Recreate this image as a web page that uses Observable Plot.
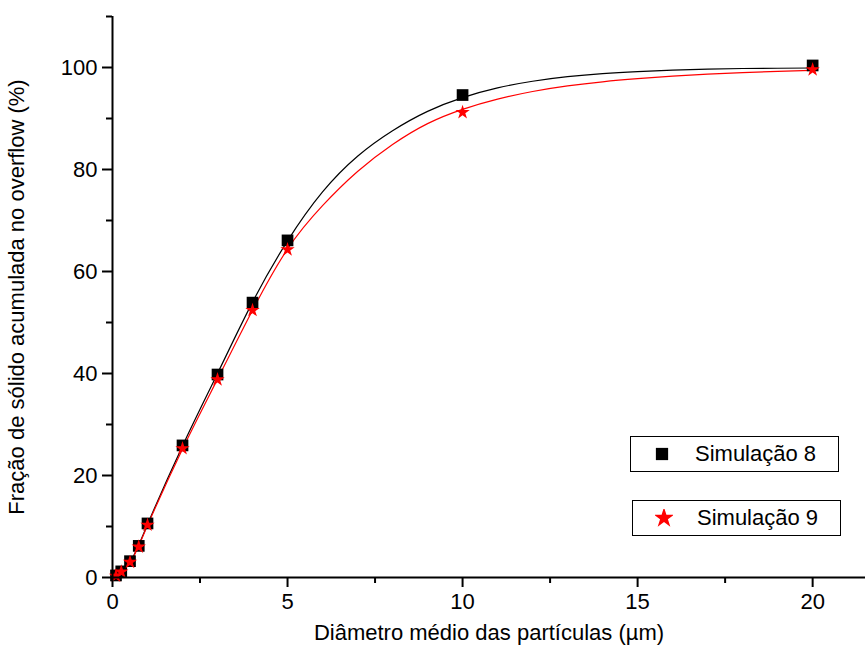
<!DOCTYPE html>
<html>
<head>
<meta charset="utf-8">
<script src="https://cdn.jsdelivr.net/npm/d3@7"></script>
<script src="https://cdn.jsdelivr.net/npm/@observablehq/plot@0.6"></script>
<style>
  html, body { margin: 0; padding: 0; background: #fff; }
  #wrap { position: relative; width: 865px; height: 646px; font-family: "Liberation Sans", Arial, sans-serif; }
  .leg { position: absolute; border: 1.5px solid #000; background: #fff; box-sizing: border-box; font-size: 22px; color: #000; display: flex; align-items: center; }
  .leg svg { margin-left: 22px; margin-right: 24px; }
</style>
</head>
<body>
<div id="wrap"></div>
<script>
// Measured points
const diam = [0.1, 0.25, 0.5, 0.75, 1, 2, 3, 4, 5, 10, 20];
const sim8 = [0.4, 1.2, 3.2, 6.2, 10.6, 25.9, 39.8, 53.9, 66.1, 94.6, 100.4];
const sim9 = [0.3, 1.1, 3.0, 6.0, 10.3, 25.3, 38.8, 52.4, 64.3, 91.2, 99.6];

// Fitted curves
const fitX = [0, 0.5, 1, 2, 3, 4, 5, 6, 7, 8, 9, 10, 11, 12, 13, 14, 15, 16, 17, 18, 19, 20];
const fit8 = [0, 3.0, 10.4, 25.8, 40.0, 54.0, 66.0, 75.6, 82.6, 87.6, 91.4, 94.1, 96.0, 97.3, 98.2, 98.8, 99.2, 99.5, 99.7, 99.8, 99.85, 99.9];
const fit9 = [0, 2.9, 10.2, 25.2, 38.9, 52.4, 64.4, 72.9, 79.6, 84.9, 89.0, 91.8, 93.8, 95.3, 96.4, 97.2, 97.8, 98.3, 98.7, 99.0, 99.25, 99.45];

const seriesNames = ["Simulação 8", "Simulação 9"];
const xMajor = [0, 5, 10, 15, 20];
const xMinor = [2.5, 7.5, 12.5, 17.5];
const yMajor = [0, 20, 40, 60, 80, 100];
const yMinor = [10, 30, 50, 70, 90, 110];

const pts8 = diam.map((d, i) => ({x: d, y: sim8[i]}));
const pts9 = diam.map((d, i) => ({x: d, y: sim9[i]}));
const line8 = fitX.map((d, i) => ({x: d, y: fit8[i]}));
const line9 = fitX.map((d, i) => ({x: d, y: fit9[i]}));

const font = "Liberation Sans, Arial, sans-serif";
const chart = Plot.plot({
  width: 865,
  height: 646,
  marginLeft: 112,
  marginRight: 0,
  marginTop: 16,
  marginBottom: 69,
  style: {fontFamily: font, fontSize: "22px", color: "#000", background: "#fff"},
  x: {domain: [0, 21.51]},
  y: {domain: [0, 110]},
  marks: [
    Plot.line(line8, {x: "x", y: "y", stroke: "#000", strokeWidth: 1.2, curve: "natural"}),
    Plot.line(line9, {x: "x", y: "y", stroke: "#ff0000", strokeWidth: 1.2, curve: "natural"}),
    Plot.dot(pts8, {x: "x", y: "y", symbol: "square", r: 6.6, fill: "#000", stroke: null}),
    Plot.dot(pts9, {x: "x", y: "y", symbol: "star", r: 4.5, fill: "#ff0000", stroke: null}),
    Plot.axisX({ticks: xMajor, tickSize: 10, strokeWidth: 2, tickPadding: 6, fontSize: 22,
      label: "Diâmetro médio das partículas (µm)", labelAnchor: "center", labelArrow: "none", labelOffset: 62}),
    Plot.axisX({ticks: xMinor, tickSize: 6, strokeWidth: 2, tickFormat: () => "", label: null}),
    Plot.axisY({ticks: yMajor, tickSize: 10, strokeWidth: 2, tickPadding: 5, fontSize: 22,
      label: "Fração de sólido acumulada no overflow (%)", labelAnchor: "center", labelArrow: "none", labelOffset: 104}),
    Plot.axisY({ticks: yMinor, tickSize: 6, strokeWidth: 2, tickFormat: () => "", label: null}),
    Plot.ruleY([0], {stroke: "#000", strokeWidth: 2}),
    Plot.ruleX([0], {stroke: "#000", strokeWidth: 2})
  ]
});
const wrap = document.getElementById("wrap");
wrap.appendChild(chart);

// Legend
const legendItems = [
  {name: seriesNames[0], symbol: d3.symbolSquare, size: 150, color: "#000", left: 630, top: 436, w: 209, h: 36},
  {name: seriesNames[1], symbol: d3.symbolStar, size: 130, color: "#ff0000", left: 632, top: 500, w: 209, h: 36}
];
for (const it of legendItems) {
  const div = document.createElement("div");
  div.className = "leg";
  Object.assign(div.style, {left: it.left + "px", top: it.top + "px", width: it.w + "px", height: it.h + "px"});
  const s = d3.create("svg").attr("width", 18).attr("height", 18);
  s.append("path").attr("transform", "translate(9,9)").attr("d", d3.symbol(it.symbol, it.size)()).attr("fill", it.color);
  div.appendChild(s.node());
  const span = document.createElement("span");
  span.textContent = it.name;
  div.appendChild(span);
  wrap.appendChild(div);
}
</script>
</body>
</html>
